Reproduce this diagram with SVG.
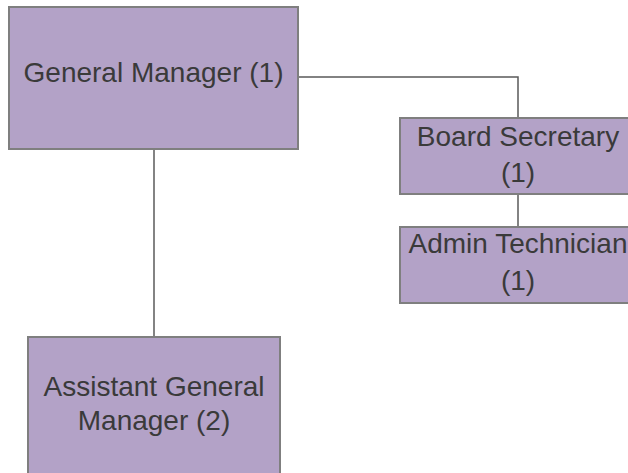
<svg xmlns="http://www.w3.org/2000/svg" width="628" height="473" viewBox="0 0 628 473">
  <style>
    .box { fill: #b3a2c7; stroke: #7f7f7f; stroke-width: 2; }
    .lbl { font-family: "Liberation Sans", Arial, sans-serif; font-size: 28px; fill: #3a3a3a; text-anchor: middle; }
    .link { fill: none; stroke: #5a5a5a; stroke-width: 1.5; }
  </style>
  <rect width="628" height="473" fill="#ffffff"/>

  <!-- reporting lines -->
  <g id="connectors">
    <polyline class="link" points="298,77 518,77 518,118"/>
    <line class="link" x1="518" y1="194" x2="518" y2="227"/>
    <line class="link" x1="154" y1="149" x2="154" y2="337"/>
  </g>

  <g id="general-manager">
    <rect class="box" x="9" y="7" width="289" height="142"/>
    <text class="lbl" x="153.5" y="82">General Manager (1)</text>
  </g>

  <g id="board-secretary">
    <rect class="box" x="400" y="118" width="236" height="76"/>
    <text class="lbl" x="518" y="146">Board Secretary</text>
    <text class="lbl" x="518" y="182">(1)</text>
  </g>

  <g id="admin-technician">
    <rect class="box" x="400" y="227" width="236" height="76"/>
    <text class="lbl" x="518" y="253">Admin Technician</text>
    <text class="lbl" x="518" y="290">(1)</text>
  </g>

  <g id="assistant-general-manager">
    <rect class="box" x="28" y="337" width="252" height="150"/>
    <text class="lbl" x="154" y="396">Assistant General</text>
    <text class="lbl" x="154" y="430">Manager (2)</text>
  </g>
</svg>
